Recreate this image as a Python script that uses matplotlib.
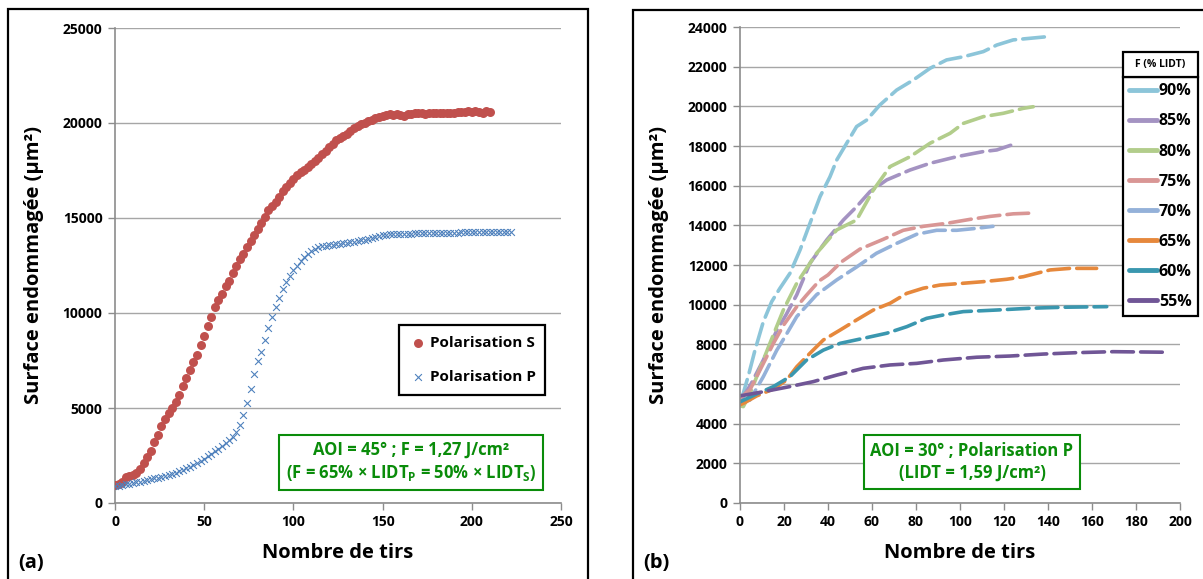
# Surface endommagée vs nombre de tirs : (a) polarisation S/P, (b) P à différentes fluences

import numpy as np
import matplotlib
matplotlib.use('Agg')
import matplotlib.pyplot as plt
from matplotlib.lines import Line2D
from matplotlib.patches import Rectangle

plt.rcParams['font.family'] = ['Open Sans', 'DejaVu Sans']
plt.rcParams['font.weight'] = 'bold'
plt.rcParams['axes.labelweight'] = 'bold'
plt.rcParams['mathtext.fontset'] = 'custom'
plt.rcParams['mathtext.rm'] = 'Open Sans:bold'
plt.rcParams['mathtext.bf'] = 'Open Sans:bold'
plt.rcParams['mathtext.it'] = 'Open Sans:bold:italic'

# ---- données (a) : un point tous les 2 tirs ----
S_VALUES = [950, 1000, 1100, 1350, 1400, 1450, 1600, 1800, 2100, 2400,
            2750, 3200, 3600, 4050, 4400, 4750, 5000, 5300, 5700, 6150,
            6600, 7000, 7400, 7800, 8300, 8800, 9300, 9800, 10300, 10700,
            11000, 11400, 11700, 12100, 12500, 12850, 13100, 13450, 13800, 14100,
            14400, 14750, 15050, 15400, 15650, 15850, 16100, 16400, 16650, 16850,
            17050, 17250, 17400, 17550, 17700, 17850, 18000, 18150, 18350, 18550,
            18750, 18900, 19100, 19200, 19300, 19400, 19600, 19750, 19850, 19950,
            20000, 20100, 20150, 20250, 20300, 20350, 20400, 20450, 20400, 20450,
            20400, 20350, 20450, 20450, 20500, 20500, 20500, 20450, 20500, 20500,
            20500, 20550, 20550, 20550, 20550, 20550, 20600, 20600, 20600, 20650,
            20600, 20650, 20600, 20500, 20650, 20600]
P_VALUES = [900, 920, 950, 980, 1020, 1060, 1100, 1130, 1180, 1220,
            1260, 1290, 1320, 1360, 1410, 1460, 1530, 1600, 1680, 1760,
            1840, 1920, 2000, 2100, 2230, 2340, 2450, 2580, 2720, 2860,
            3000, 3150, 3320, 3500, 3750, 4100, 4650, 5250, 6000, 6800,
            7450, 7950, 8600, 9200, 9800, 10300, 10800, 11250, 11650, 11950,
            12250, 12500, 12750, 12950, 13100, 13250, 13350, 13450, 13500, 13550,
            13580, 13600, 13620, 13650, 13680, 13700, 13720, 13750, 13780, 13820,
            13850, 13900, 13950, 14000, 14050, 14100, 14120, 14140, 14150, 14160,
            14170, 14170, 14180, 14180, 14190, 14190, 14200, 14200, 14200, 14210,
            14210, 14220, 14220, 14220, 14230, 14230, 14230, 14240, 14240, 14240,
            14250, 14250, 14250, 14250, 14260, 14260, 14260, 14270, 14270, 14270,
            14280, 14280]
S_SHOTS = np.arange(0, 2 * len(S_VALUES), 2)
P_SHOTS = np.arange(0, 2 * len(P_VALUES), 2)

# ---- données (b) ----
x90 = [0, 1.5, 4, 6.8, 10.6, 14.4, 18, 22.7, 27.3, 31.8, 36.4, 40.9, 44, 48.5, 53, 57.6,
       63.6, 71.2, 78.8, 86.4, 93.9, 101.5, 110.6, 116.7, 124.2, 131.8, 139.4]
y90 = [5200, 5530, 6500, 7700, 9140, 10150, 10800, 11580, 12760, 14100, 15450, 16450, 17300,
       18140, 18980, 19310, 20070, 20820, 21330, 21920, 22340, 22500, 22760, 23090, 23350,
       23430, 23510]
x85 = [0, 1.5, 5, 10.6, 16.7, 21, 25.8, 31.8, 39.4, 47, 53, 59.1, 66.7, 77.3, 86.4, 98.5,
       110.6, 116.7, 125.8]
y85 = [5200, 5360, 6000, 7210, 8700, 9500, 10500, 12090, 13260, 14270, 14940, 15700, 16290,
       16790, 17130, 17460, 17720, 17800, 18140]
x80 = [0, 1.5, 4.5, 7.6, 13.6, 19.7, 25.8, 34.8, 44, 53, 60.6, 68.2, 77.3, 86.4, 95.5,
       101.5, 110.6, 119.7, 128.8, 133.3]
y80 = [4900, 4860, 5500, 6370, 8050, 9730, 11080, 12590, 13770, 14270, 15780, 16960, 17460,
       18140, 18640, 19140, 19480, 19650, 19900, 19980]
x75 = [0, 4.5, 10, 15.2, 20, 25.8, 30, 36, 40, 46, 54.5, 65.2, 74.2, 83.3, 93.9, 104.5,
       113.6, 124.2, 133.3]
y75 = [5300, 5700, 6900, 8050, 9000, 9900, 10450, 11200, 11500, 12150, 12800, 13300, 13750,
       13950, 14100, 14300, 14450, 14580, 14620]
x70 = [0, 4.5, 10.6, 16.7, 20, 25.8, 34.8, 44, 53, 62, 71.2, 80.3, 89.4, 98.5, 107.6, 115]
y70 = [5100, 5190, 6370, 7700, 8300, 9400, 10500, 11250, 11900, 12590, 13090, 13550, 13750,
       13750, 13850, 13950]
x65 = [0, 2, 7.6, 15.2, 21.2, 25.8, 31.8, 37.9, 45.5, 53, 60.6, 68.2, 75.8, 83.3, 90.9,
       101.5, 110.6, 121.2, 128.8, 134.8, 140.9, 150, 162.1]
y65 = [4950, 5050, 5400, 5750, 6200, 6870, 7550, 8220, 8720, 9230, 9730, 10070, 10570, 10830,
       10990, 11080, 11160, 11280, 11410, 11580, 11750, 11830, 11830]
x60 = [0, 7.6, 15.2, 22.7, 30.3, 37.9, 45.5, 56, 66.7, 75.8, 84.8, 92.4, 101.5, 116.7,
       131.8, 146.9, 166.7]
y60 = [5100, 5500, 5870, 6370, 7210, 7710, 8050, 8300, 8560, 8890, 9310, 9480, 9650, 9730,
       9820, 9870, 9900]
x55 = [0, 10.6, 22.7, 33.3, 44, 56, 68.2, 80.3, 92.4, 107.6, 122.7, 137.9, 153, 169.7, 195]
y55 = [5400, 5610, 5870, 6120, 6450, 6790, 6960, 7040, 7210, 7350, 7410, 7510, 7580, 7630,
       7600]

SERIES_B = [
    ('90%', x90, y90, '#8CC5D9'),
    ('85%', x85, y85, '#A493C2'),
    ('80%', x80, y80, '#B2CD8B'),
    ('75%', x75, y75, '#D99695'),
    ('70%', x70, y70, '#94B1D9'),
    ('65%', x65, y65, '#E6883C'),
    ('60%', x60, y60, '#3A97AF'),
    ('55%', x55, y55, '#705696'),
]

W, H = 1203, 579
GREEN = '#0A8C0A'
GRID = '#A6A6A6'


def fx(px):
    return px / W


def fy(py):
    return 1 - py / H


def style_axes(ax):
    ax.set_facecolor('white')
    for s in ('top', 'right'):
        ax.spines[s].set_visible(False)
    for s in ('left', 'bottom'):
        ax.spines[s].set_color('#8C8C8C')
        ax.spines[s].set_linewidth(1.2)
    ax.grid(axis='y', color=GRID, lw=1.0)
    ax.set_axisbelow(True)
    ax.tick_params(direction='out', length=5, width=1.0, color='#8C8C8C',
                   labelsize=10, pad=4)


fig = plt.figure(figsize=(W / 100, H / 100), dpi=100)

# cadres des panneaux
fig.add_artist(Rectangle((fx(8), -0.02), fx(588 - 8), 0.02 + (H - 9) / H,
                         transform=fig.transFigure, fill=False, ec='black', lw=1.6))
fig.add_artist(Rectangle((fx(633), -0.02), fx(1215 - 633), 0.02 + (H - 10) / H,
                         transform=fig.transFigure, fill=False, ec='black', lw=1.6))

# ---- (a) ----
ax1 = fig.add_axes([fx(115), fy(503), fx(561 - 115), (503 - 28) / H])
style_axes(ax1)
ax1.scatter(S_SHOTS, S_VALUES, s=42, color='#C0504D', lw=0, label='Polarisation S', zorder=3)
ax1.scatter(P_SHOTS, P_VALUES, s=24, marker='x', color='#4F81BD', lw=0.8,
            label='Polarisation P', zorder=3)
ax1.set_xlim(0, 250)
ax1.set_ylim(0, 25000)
ax1.set_xticks(range(0, 251, 50))
ax1.set_yticks(range(0, 25001, 5000))
ax1.set_xlabel('Nombre de tirs', fontsize=14.5)
ax1.set_ylabel('Surface endommagée (µm²)', fontsize=14.5)
ax1.xaxis.set_label_coords(0.5, -(553 - 503) / 475)
ax1.xaxis.label.set_va('center')
ax1.yaxis.set_label_coords(-(115 - 34) / 446, 0.5)
ax1.yaxis.label.set_va('center')

leg1 = ax1.legend(loc='upper left', bbox_to_anchor=(fx(399), 0, fx(146), fy(325)),
                  bbox_transform=fig.transFigure, mode='expand', borderaxespad=0,
                  fontsize=11, frameon=True, fancybox=False, edgecolor='black',
                  framealpha=1, handlelength=1.0, handletextpad=0.3,
                  labelspacing=1.25, borderpad=0.75, scatterpoints=1, markerscale=1.0)
leg1.get_frame().set_linewidth(1.6)

ax1.text(0.5 * (278 + 544) / W, fy(462),
         'AOI = 45° ; F = 1,27 J/cm²\n(F = 65% × LIDT$_\\mathrm{P}$ = 50% × LIDT$_\\mathrm{S}$)',
         transform=fig.transFigure, ha='center', va='center', fontsize=12,
         color=GREEN, linespacing=1.3,
         bbox=dict(boxstyle='square,pad=0.4', fc='white', ec=GREEN, lw=1.5))

fig.text(fx(18), fy(563), '(a)', fontsize=14.5, ha='left', va='center')

# ---- (b) ----
ax2 = fig.add_axes([fx(740), fy(503), fx(1180 - 740), (503 - 27) / H])
style_axes(ax2)
for lab, xs, ys, col in SERIES_B:
    ax2.plot(xs, ys, color=col, lw=2.6, dashes=(6, 2.0), dash_capstyle='round',
             solid_capstyle='round', label=lab)
ax2.set_xlim(0, 200)
ax2.set_ylim(0, 24000)
ax2.set_xticks(range(0, 201, 20))
ax2.set_yticks(range(0, 24001, 2000))
ax2.set_xlabel('Nombre de tirs', fontsize=14.5)
ax2.set_ylabel('Surface endommagée (µm²)', fontsize=14.5)
ax2.xaxis.set_label_coords(0.5, -(553 - 503) / 476)
ax2.xaxis.label.set_va('center')
ax2.yaxis.set_label_coords(-(740 - 659) / 440, 0.5)
ax2.yaxis.label.set_va('center')

handles = [Line2D([], [], color=col, lw=3.5, solid_capstyle='round') for _, _, _, col in SERIES_B]
labels = [lab for lab, _, _, _ in SERIES_B]
leg2 = ax2.legend(handles, labels, loc='upper left',
                  bbox_to_anchor=(fx(1123), 0, fx(75), fy(77)),
                  bbox_transform=fig.transFigure, mode='expand', borderaxespad=0,
                  fontsize=11.5, frameon=True, fancybox=False, edgecolor='black',
                  framealpha=1, handlelength=1.75, handletextpad=0.1,
                  labelspacing=0.88, borderpad=0.4)
leg2.get_frame().set_linewidth(1.6)

fig.add_artist(Rectangle((fx(1123), fy(77)), fx(75), (77 - 52) / H,
                         transform=fig.transFigure, fc='white', ec='black', lw=1.6, zorder=10))
fig.text(fx(1123 + 37.5), fy(64.5), 'F (% LIDT)', fontsize=7.5, ha='center', va='center',
         zorder=11)

ax2.text(0.5 * (864 + 1080) / W, fy(462), 'AOI = 30° ; Polarisation P\n(LIDT = 1,59 J/cm²)',
         transform=fig.transFigure, ha='center', va='center', fontsize=12,
         color=GREEN, linespacing=1.3,
         bbox=dict(boxstyle='square,pad=0.4', fc='white', ec=GREEN, lw=1.5))

fig.text(fx(643), fy(563), '(b)', fontsize=14.5, ha='left', va='center')

fig.savefig('out.png', dpi=100, facecolor='white')
